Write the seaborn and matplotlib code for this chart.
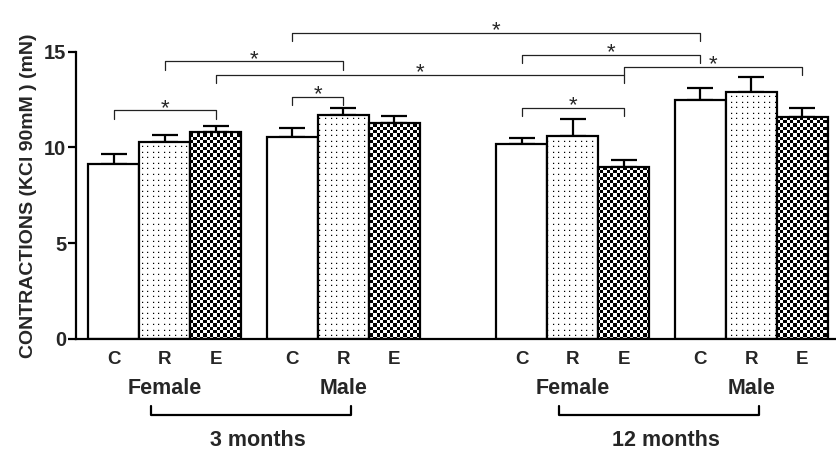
import numpy as np
import pandas as pd
import matplotlib
matplotlib.use("Agg")
import matplotlib.pyplot as plt
import matplotlib.hatch as mhatch
from matplotlib.path import Path
from matplotlib.transforms import blended_transform_factory
import seaborn as sns

# ---------------- data ----------------
treatments = ["C", "R", "E"]
sexes = ["Female", "Male"]
ages = ["3 months", "12 months"]

means_3m_female = [9.15, 10.28, 10.83]
sem_3m_female = [0.50, 0.38, 0.29]
means_3m_male = [10.53, 11.71, 11.30]
sem_3m_male = [0.49, 0.34, 0.36]
means_12m_female = [10.17, 10.62, 8.98]
sem_12m_female = [0.34, 0.85, 0.35]
means_12m_male = [12.48, 12.88, 11.61]
sem_12m_male = [0.61, 0.82, 0.45]

# significant comparisons: (bar index a, bar index b, bracket height)
# bar index order: 3m F C,R,E | 3m M C,R,E | 12m F C,R,E | 12m M C,R,E
comp_a = [0, 1, 2, 3, 3, 6, 8, 6]
comp_b = [2, 4, 8, 4, 9, 9, 11, 8]
comp_h = [11.94, 14.50, 13.80, 12.65, 15.98, 14.83, 14.19, 12.05]
comp_label = ["*"] * 8

y_ticks = [0, 5, 10, 15]


# ---------------- custom hatches (pixel-snapped in the 100 px hatch tile) ----------------
def _square(x0, y0, x1, y1):
    return [[x0, y0], [x1, y0], [x1, y1], [x0, y1], [x0, y0]]


_SQ_CODES = [Path.MOVETO, Path.LINETO, Path.LINETO, Path.LINETO, Path.CLOSEPOLY]


class DotGrid(mhatch.HatchPatternBase):
    n = 18

    def __init__(self, hatch, density):
        self.active = "." in hatch
        self.num_vertices = self.n * self.n * 5 if self.active else 0

    def set_vertices_and_codes(self, vertices, codes):
        k = 0
        for i in range(self.n):
            for j in range(self.n):
                px = round((i + 0.5) * 100 / self.n)
                py = round((j + 0.5) * 100 / self.n)
                vertices[k:k + 5] = _square(px / 100, py / 100,
                                            (px + 1.2) / 100, (py + 1.2) / 100)
                codes[k:k + 5] = _SQ_CODES
                k += 5


class Checker(mhatch.HatchPatternBase):
    n = 30

    def __init__(self, hatch, density):
        self.active = "O" in hatch
        self.num_vertices = (self.n * self.n // 2) * 5 if self.active else 0

    def set_vertices_and_codes(self, vertices, codes):
        edges = [round(i * 100 / self.n) / 100 for i in range(self.n + 1)]
        k = 0
        for i in range(self.n):
            for j in range(self.n):
                if (i + j) % 2 == 0:
                    vertices[k:k + 5] = _square(edges[i], edges[j],
                                                edges[i + 1], edges[j + 1])
                    codes[k:k + 5] = _SQ_CODES
                    k += 5


mhatch._hatch_types[:] = [t for t in mhatch._hatch_types
                          if t not in (mhatch.SmallFilledCircles, mhatch.LargeCircles)] + [DotGrid, Checker]

# ---------------- style ----------------
sns.set_theme(style="ticks")
plt.rcParams["font.family"] = ["Liberation Sans", "DejaVu Sans"]
plt.rcParams["hatch.linewidth"] = 0.01
plt.rcParams["axes.linewidth"] = 1.6

# ---------------- build table ----------------
group_start = [0.0, 3.5, 8.0, 11.5]
all_means = [means_3m_female, means_3m_male, means_12m_female, means_12m_male]
all_sems = [sem_3m_female, sem_3m_male, sem_12m_female, sem_12m_male]
rows = []
for g, (m, s) in enumerate(zip(all_means, all_sems)):
    for t, tr in enumerate(treatments):
        rows.append({"pos": group_start[g] + t, "value": m[t], "sem": s[t],
                     "treatment": tr, "sex": sexes[g % 2], "age": ages[g // 2]})
df = pd.DataFrame(rows)

fig = plt.figure(figsize=(8.37, 4.53), dpi=100)
ax = fig.add_axes([76 / 837, 114 / 453, 761 / 837, 287.3 / 453])

sns.barplot(data=df, x="pos", y="value", hue="treatment", hue_order=treatments,
            palette={"C": "white", "R": "white", "E": "white"},
            native_scale=True, dodge=False, width=1.0, errorbar=None,
            edgecolor="black", linewidth=1.6, legend=False, ax=ax, zorder=2)

hatches = {"C": "", "R": ".", "E": "O"}
for cont, tr in zip(ax.containers, treatments):
    for bar in cont:
        bar.set_hatch(hatches[tr])
        bar.set_edgecolor("black")
        bar.set_linewidth(1.6)

ax.errorbar(df["pos"], df["value"], yerr=[np.zeros(len(df)), df["sem"]],
            fmt="none", ecolor="black", elinewidth=1.6, capsize=9.5,
            capthick=1.6, zorder=1)

ax.set_xlim(-0.745, 14.18)
ax.set_ylim(0, 15)
ax.set_yticks(y_ticks)
ax.set_yticklabels([str(v) for v in y_ticks], fontsize=14.5, fontweight="bold")
ax.set_xticks(df["pos"])
ax.set_xticklabels(df["treatment"], fontsize=13.5, fontweight="bold")
ax.tick_params(axis="x", length=0, pad=9)
ax.tick_params(axis="y", length=6, width=1.6, pad=1, color="black")
ax.set_xlabel("")
ax.set_ylabel("CONTRACTIONS (KCl 90mM ) (mN)", fontsize=14,
              fontweight="bold", labelpad=5)
sns.despine(ax=ax)
for sp in ("left", "bottom"):
    ax.spines[sp].set_color("black")

# significance brackets
leg = 0.43
for a, b, h, lab in zip(comp_a, comp_b, comp_h, comp_label):
    xa, xb = df["pos"][a], df["pos"][b]
    ax.plot([xa, xa, xb, xb], [h - leg, h, h, h - leg], color="#222222",
            lw=0.9, clip_on=False, zorder=5)
    ax.annotate(lab, xy=((xa + xb) / 2, h), xytext=(0, -2.5),
                textcoords="offset points", ha="center", va="baseline",
                fontsize=16, annotation_clip=False)

# group labels
trans = blended_transform_factory(ax.transData, ax.transAxes)
for g in range(4):
    rpos = group_start[g] + 1
    ax.text(rpos, -0.172, sexes[g % 2], transform=trans, ha="center",
            va="center", fontsize=15.5, fontweight="bold")
for k in range(2):
    left_r = group_start[2 * k] + 1 - 0.28
    right_r = group_start[2 * k + 1] + 1 + 0.15
    ax.plot([left_r, left_r, right_r, right_r], [-0.233, -0.2645, -0.2645, -0.233],
            transform=trans, color="black", lw=1.6, clip_on=False)
    ax.text((left_r + right_r) / 2 + 0.14, -0.352, ages[k], transform=trans,
            ha="center", va="center", fontsize=15.5, fontweight="bold")

fig.savefig("out.png", dpi=100)
